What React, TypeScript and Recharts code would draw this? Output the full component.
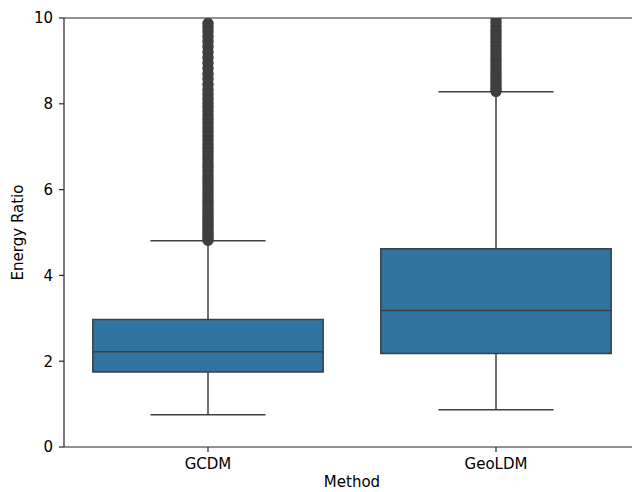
import { ComposedChart, XAxis, YAxis, Scatter, ReferenceArea, ReferenceLine, Label } from 'recharts';

const methods = ['GCDM', 'GeoLDM'];
const whiskerLow = [0.75, 0.87];
const q1 = [1.75, 2.18];
const median = [2.22, 3.18];
const q3 = [2.97, 4.62];
const whiskerHigh = [4.81, 8.28];

const gcdmOutliers = [
    4.82, 4.88, 4.95, 5.01, 5.09, 5.16, 5.22, 5.3, 5.37, 5.45, 5.52, 5.6, 5.68,
    5.75, 5.84, 5.92, 6.0, 6.09, 6.17, 6.26, 6.34, 6.43, 6.52, 6.6, 6.7, 6.79,
    6.88, 6.97, 7.06, 7.16, 7.25, 7.35, 7.44, 7.54, 7.63, 7.73, 7.83, 7.93, 8.02,
    8.12, 8.22, 8.33, 8.45, 8.58, 8.7, 8.83, 8.95, 9.08, 9.2, 9.33, 9.45, 9.57,
    9.68, 9.78, 9.87,
];
const geoldmOutliers = [
    8.29, 8.35, 8.42, 8.5, 8.58, 8.66, 8.74, 8.82, 8.91, 9.0, 9.08, 9.17, 9.26,
    9.35, 9.44, 9.53, 9.62, 9.71, 9.8, 9.9, 10.0, 10.1, 10.2,
];
const yTicks = [0, 2, 4, 6, 8, 10];

const boxFill = '#3274a1';
const lineColor = '#3f3f3f';
const spineColor = '#262626';
const font = 'DejaVu Sans, sans-serif';
const textStyle = { fill: '#000', fontSize: 15, fontFamily: font };

const flierShape = (props: any) => (
    <circle cx={props.cx} cy={props.cy} r={5} fill={lineColor} stroke={lineColor} strokeWidth={1.5} />
);

export default function App() {
    const outlierSets = [gcdmOutliers, geoldmOutliers];

    return (
        <div style={{ position: 'absolute', left: 0, top: 0, width: 632, height: 492, overflow: 'hidden', background: '#fff' }}>
            <ComposedChart width={640} height={500} margin={{ top: 18, right: 0, left: 0, bottom: 0 }}>
                <XAxis
                    type="number"
                    dataKey="x"
                    domain={[-0.5, 1.5]}
                    ticks={[0, 1]}
                    tickFormatter={(v: number) => methods[v]}
                    height={53}
                    tickSize={5}
                    tickMargin={6}
                    axisLine={{ stroke: spineColor, strokeWidth: 1.2 }}
                    tickLine={{ stroke: spineColor, strokeWidth: 1.2 }}
                    tick={textStyle}
                >
                    <Label value="Method" position="insideBottom" offset={13} style={textStyle} />
                </XAxis>
                <YAxis
                    type="number"
                    dataKey="y"
                    domain={[0, 10]}
                    ticks={yTicks}
                    allowDataOverflow
                    width={64}
                    tickSize={5}
                    tickMargin={6}
                    axisLine={{ stroke: spineColor, strokeWidth: 1.2 }}
                    tickLine={{ stroke: spineColor, strokeWidth: 1.2 }}
                    tick={textStyle}
                >
                    <Label
                        value="Energy Ratio"
                        angle={-90}
                        position="insideLeft"
                        offset={18}
                        style={{ ...textStyle, textAnchor: 'middle' }}
                    />
                </YAxis>

                {/* top spine */}
                <ReferenceLine y={10} stroke={spineColor} strokeWidth={1.2} />

                {methods.map((m, i) => (
                    <ReferenceLine
                        key={`wl-${m}`}
                        segment={[{ x: i, y: whiskerLow[i] }, { x: i, y: q1[i] }]}
                        stroke={lineColor}
                        strokeWidth={1.5}
                    />
                ))}
                {methods.map((m, i) => (
                    <ReferenceLine
                        key={`wh-${m}`}
                        segment={[{ x: i, y: q3[i] }, { x: i, y: whiskerHigh[i] }]}
                        stroke={lineColor}
                        strokeWidth={1.5}
                    />
                ))}
                {methods.map((m, i) => (
                    <ReferenceLine
                        key={`cl-${m}`}
                        segment={[{ x: i - 0.2, y: whiskerLow[i] }, { x: i + 0.2, y: whiskerLow[i] }]}
                        stroke={lineColor}
                        strokeWidth={1.5}
                    />
                ))}
                {methods.map((m, i) => (
                    <ReferenceLine
                        key={`ch-${m}`}
                        segment={[{ x: i - 0.2, y: whiskerHigh[i] }, { x: i + 0.2, y: whiskerHigh[i] }]}
                        stroke={lineColor}
                        strokeWidth={1.5}
                    />
                ))}
                {methods.map((m, i) => (
                    <ReferenceArea
                        key={`box-${m}`}
                        x1={i - 0.4}
                        x2={i + 0.4}
                        y1={q1[i]}
                        y2={q3[i]}
                        fill={boxFill}
                        fillOpacity={1}
                        stroke={lineColor}
                        strokeWidth={1.5}
                    />
                ))}
                {methods.map((m, i) => (
                    <ReferenceLine
                        key={`med-${m}`}
                        segment={[{ x: i - 0.4, y: median[i] }, { x: i + 0.4, y: median[i] }]}
                        stroke={lineColor}
                        strokeWidth={1.5}
                    />
                ))}

                {methods.map((m, i) => (
                    <Scatter
                        key={`out-${m}`}
                        data={outlierSets[i].map((v) => ({ x: i, y: v }))}
                        shape={flierShape}
                        isAnimationActive={false}
                    />
                ))}
            </ComposedChart>
        </div>
    );
}
